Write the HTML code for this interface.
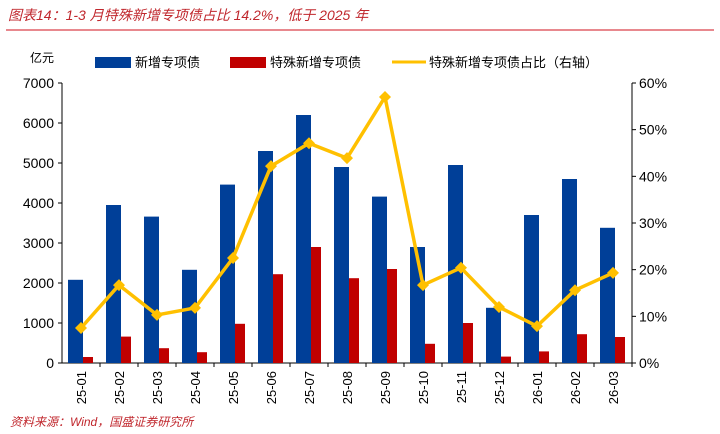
<!DOCTYPE html>
<html><head><meta charset="utf-8"><style>
body{margin:0;background:#fff;width:720px;height:434px;overflow:hidden;font-family:"Liberation Sans","Noto Sans CJK SC",sans-serif}
</style></head><body>
<svg id="c" width="720" height="434" style="position:absolute;left:0;top:0">
<text x="8" y="20" fill="#c0272d" font-style="italic" font-size="14">图表14：1-3 月特殊新增专项债占比 14.2%，低于 2025 年</text>
<line x1="6" y1="30" x2="714" y2="30" stroke="#d9414a" stroke-width="1.2"/>
<text x="30" y="62" font-size="12" fill="#000">亿元</text>
<rect x="95" y="57" width="36" height="11" fill="#003f98"/>
<text x="135" y="67" font-size="13">新增专项债</text>
<rect x="230" y="57" width="36" height="11" fill="#c00000"/>
<text x="270" y="67" font-size="13">特殊新增专项债</text>
<line x1="392" y1="62" x2="426" y2="62" stroke="#ffc000" stroke-width="3"/>
<text x="429" y="67" font-size="13">特殊新增专项债占比（右轴）</text>
<text x="10" y="426" fill="#c0272d" font-style="italic" font-size="12">资料来源：Wind，国盛证券研究所</text>
<g id="g"></g>
</svg>
<script>
const categories=["25-01","25-02","25-03","25-04","25-05","25-06","25-07","25-08","25-09","25-10","25-11","25-12","26-01","26-02","26-03"];
const newBonds=[2080,3950,3660,2330,4460,5300,6200,4900,4160,2900,4950,1380,3700,4600,3380];
const specialBonds=[150,660,370,270,980,2220,2900,2120,2350,480,1000,160,290,720,650];
const ratioPct=[7.5,16.7,10.3,11.8,22.5,42.2,47.1,43.9,57,16.7,20.4,12,7.9,15.6,19.3];
const leftTicks=[0,1000,2000,3000,4000,5000,6000,7000];
const rightTicks=[0,10,20,30,40,50,60];
const NS="http://www.w3.org/2000/svg",g=document.getElementById('g');
const X0=62,X1=632,Y0=363,Y1=83,bw=(X1-X0)/categories.length;
const yL=v=>Y0-(v/7000)*(Y0-Y1), yR=v=>Y0-(v/60)*(Y0-Y1), xc=i=>X0+bw*(i+0.5);
function mk(t,a){const e=document.createElementNS(NS,t);for(const k in a)e.setAttribute(k,a[k]);g.appendChild(e);return e;}
let e;
e=mk('line',{x1:X0,y1:Y1,x2:X0,y2:Y0,stroke:'#000'});


e=mk('line',{x1:X1,y1:Y1,x2:X1,y2:Y0,stroke:'#000'});


e=mk('line',{x1:X0,y1:Y0,x2:X1,y2:Y0,stroke:'#000'});


leftTicks.forEach(v=>{
 mk('line',{x1:X0-4,y1:yL(v),x2:X0,y2:yL(v),stroke:'#000'});
 e=mk('text',{x:X0-8,y:yL(v)+5,'text-anchor':'end','font-size':14});e.textContent=v;
 
 
});
rightTicks.forEach(v=>{
 mk('line',{x1:X1,y1:yR(v),x2:X1+4,y2:yR(v),stroke:'#000'});
 e=mk('text',{x:X1+7,y:yR(v)+5,'font-size':14});e.textContent=v+'%';
 
 
});
categories.forEach((c,i)=>{
 const x=xc(i);
 mk('line',{x1:X0+bw*(i+1),y1:Y0,x2:X0+bw*(i+1),y2:Y0+4,stroke:'#000'});
 e=mk('rect',{x:x-13,y:yL(newBonds[i]),width:15,height:Y0-yL(newBonds[i]),fill:'#003f98'});
 
 
 e=mk('rect',{x:x+2,y:yL(specialBonds[i]),width:10,height:Y0-yL(specialBonds[i]),fill:'#c00000'});
 
 
 e=mk('text',{x:0,y:0,'font-size':13,'text-anchor':'end',transform:`translate(${x+5},${Y0+8}) rotate(-90)`});e.textContent=c;
 
 
});
e=mk('polyline',{points:ratioPct.map((v,i)=>xc(i)+','+yR(v)).join(' '),fill:'none',stroke:'#ffc000','stroke-width':3.5,'stroke-linejoin':'round'});


ratioPct.forEach((v,i)=>{
 const x=xc(i),y=yR(v);
 e=mk('polygon',{points:`${x},${y-6} ${x+6},${y} ${x},${y+6} ${x-6},${y}`,fill:'#ffc000'});
 
 
});
</script>
</body></html>
